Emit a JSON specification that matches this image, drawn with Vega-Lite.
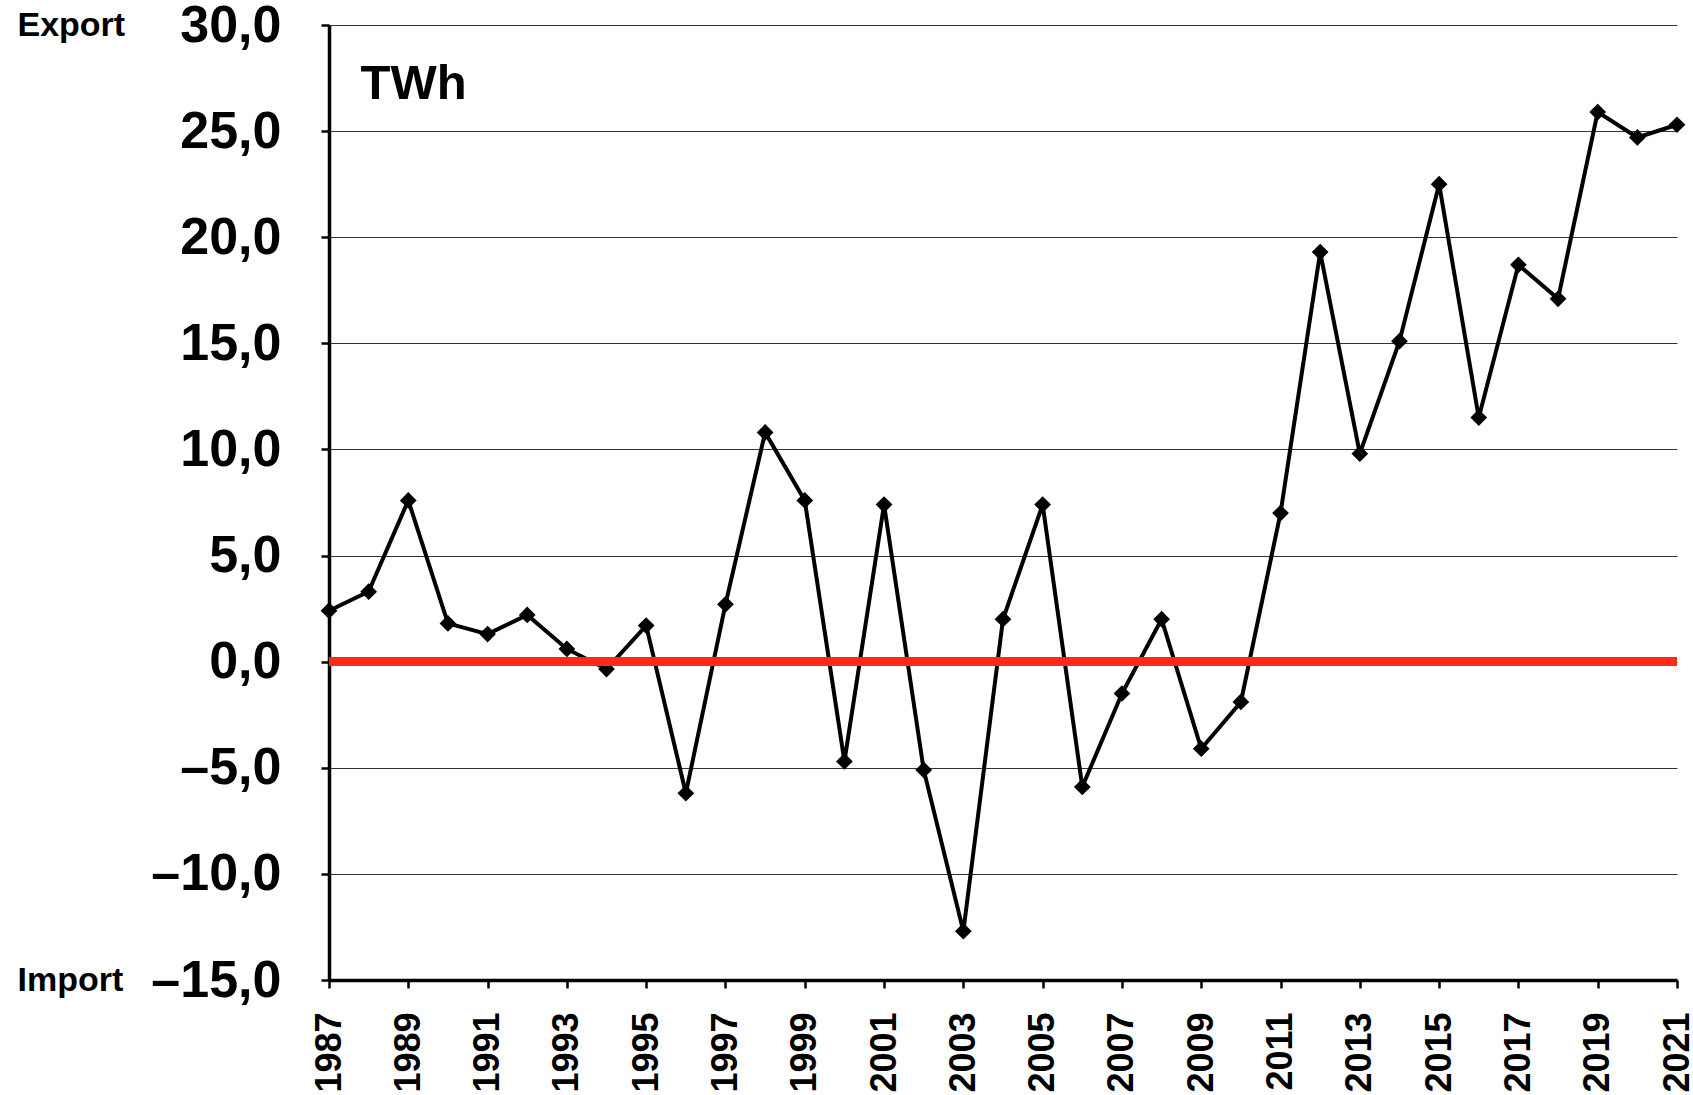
{
  "$schema": "https://vega.github.io/schema/vega-lite/v6.json",
  "width": 1348,
  "height": 955,
  "autosize": {"type": "none"},
  "padding": {"left": 329, "top": 25, "right": 16, "bottom": 115},
  "background": "white",
  "config": {
    "view": {"stroke": null},
    "font": "Liberation Sans"
  },
  "data": {
    "values": [
      {"year": 1987, "twh": 2.4},
      {"year": 1988, "twh": 3.3},
      {"year": 1989, "twh": 7.6},
      {"year": 1990, "twh": 1.8},
      {"year": 1991, "twh": 1.3},
      {"year": 1992, "twh": 2.2},
      {"year": 1993, "twh": 0.6},
      {"year": 1994, "twh": -0.35},
      {"year": 1995, "twh": 1.7},
      {"year": 1996, "twh": -6.2},
      {"year": 1997, "twh": 2.7},
      {"year": 1998, "twh": 10.8},
      {"year": 1999, "twh": 7.6},
      {"year": 2000, "twh": -4.7},
      {"year": 2001, "twh": 7.4},
      {"year": 2002, "twh": -5.1},
      {"year": 2003, "twh": -12.7},
      {"year": 2004, "twh": 2.0},
      {"year": 2005, "twh": 7.4},
      {"year": 2006, "twh": -5.9},
      {"year": 2007, "twh": -1.5},
      {"year": 2008, "twh": 2.0},
      {"year": 2009, "twh": -4.1},
      {"year": 2010, "twh": -1.9},
      {"year": 2011, "twh": 7.0},
      {"year": 2012, "twh": 19.3},
      {"year": 2013, "twh": 9.8},
      {"year": 2014, "twh": 15.1},
      {"year": 2015, "twh": 22.5},
      {"year": 2016, "twh": 11.5},
      {"year": 2017, "twh": 18.7},
      {"year": 2018, "twh": 17.1},
      {"year": 2019, "twh": 25.9},
      {"year": 2020, "twh": 24.7},
      {"year": 2021, "twh": 25.3}
    ]
  },
  "resolve": {"axis": {"y": "independent"}},
  "layer": [
    {
      "mark": {"type": "line", "color": "black", "strokeWidth": 4, "clip": false},
      "encoding": {
        "x": {
          "field": "year",
          "type": "quantitative",
          "scale": {"domain": [1987, 2021], "nice": false, "zero": false},
          "axis": {
            "values": [1987,1988,1989,1990,1991,1992,1993,1994,1995,1996,1997,1998,1999,2000,2001,2002,2003,2004,2005,2006,2007,2008,2009,2010,2011,2012,2013,2014,2015,2016,2017,2018,2019,2020,2021],
            "labelExpr": "datum.value % 2 == 1 ? format(datum.value, 'd') : ''",
            "labelAngle": -90,
            "labelAlign": "right",
            "labelBaseline": "middle",
            "labelFontSize": 36,
            "labelFontWeight": "bold",
            "labelColor": "black",
            "labelPadding": 24,
            "labelOverlap": false,
            "labelFlush": false,
            "labelBound": false,
            "tickSize": 8,
            "tickWidth": 2.5,
            "tickColor": "black",
            "domainColor": "black",
            "domainWidth": 3.5,
            "grid": false,
            "title": null
          }
        },
        "y": {
          "field": "twh",
          "type": "quantitative",
          "scale": {"domain": [-15, 30], "nice": false, "zero": false},
          "axis": {
            "values": [-15, -10, -5, 0, 5, 10, 15, 20, 25, 30],
            "labelExpr": "(datum.value < 0 ? '–' : '') + replace(format(abs(datum.value), '.1f'), '.', ',')",
            "labelFontSize": 52,
            "labelFontWeight": "bold",
            "labelColor": "black",
            "labelPadding": 40,
            "labelOverlap": false,
            "labelFlush": false,
            "labelBound": false,
            "labelBaseline": "middle",
            "tickSize": 8,
            "tickWidth": 2.5,
            "tickColor": "black",
            "domainColor": "black",
            "domainWidth": 3.5,
            "grid": true,
            "gridColor": "#333333",
            "gridWidth": 1.2,
            "title": "TWh",
            "titleAngle": 0,
            "titleX": 31,
            "titleY": 73,
            "titleAlign": "left",
            "titleBaseline": "alphabetic",
            "titleFontSize": 49,
            "titleFontWeight": "bold",
            "titleColor": "black"
          }
        }
      }
    },
    {
      "mark": {"type": "point", "shape": "diamond", "filled": true, "color": "black", "size": 280, "opacity": 1, "clip": false},
      "encoding": {
        "x": {"field": "year", "type": "quantitative"},
        "y": {"field": "twh", "type": "quantitative", "axis": null}
      }
    },
    {
      "mark": {"type": "rule", "color": "#FF2A1C", "strokeWidth": 8},
      "encoding": {
        "y": {
          "datum": 0,
          "type": "quantitative",
          "axis": {
            "orient": "left",
            "values": [30, -15],
            "labelExpr": "datum.value > 0 ? 'Export' : 'Import'",
            "labelAlign": "left",
            "labelBaseline": "middle",
            "labelFontSize": 34,
            "labelFontWeight": "bold",
            "labelColor": "black",
            "labelPadding": 312,
            "labelOverlap": false,
            "labelFlush": false,
            "labelBound": false,
            "ticks": false,
            "tickSize": 0,
            "domain": false,
            "grid": false,
            "title": null
          }
        }
      }
    }
  ]
}
